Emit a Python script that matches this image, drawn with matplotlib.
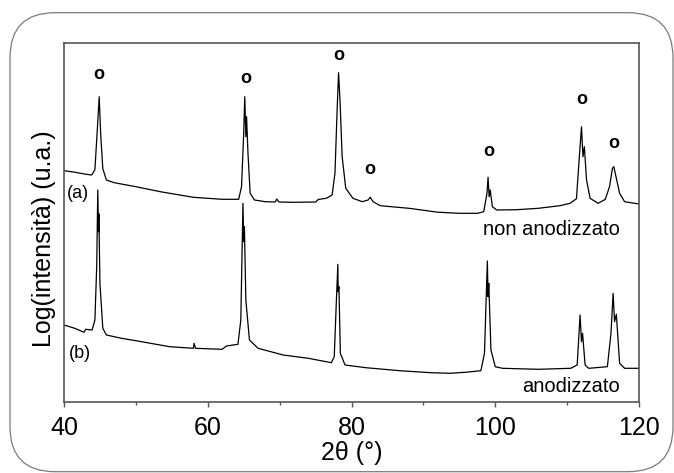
import matplotlib
matplotlib.use("Agg")
import matplotlib.pyplot as plt
from matplotlib.patches import FancyBboxPatch
from matplotlib.ticker import MultipleLocator

plt.rcParams['font.family'] = ['Liberation Sans', 'DejaVu Sans']

# ---- data: pattern (a) "non anodizzato" ----
two_theta_a = [40.0, 41.5, 43.0, 43.85, 44.3, 44.6, 44.9, 45.1, 45.4, 45.9, 47.0, 50.0,
               53.4, 58.0, 62.0, 64.3, 64.7, 65.0, 65.15, 65.3, 65.4, 65.6, 65.9, 66.5,
               68.0, 69.4, 69.6, 69.9, 72.0, 75.0, 75.4, 76.5, 77.3, 77.7, 78.0, 78.2,
               78.4, 78.7, 79.2, 80.2, 81.5, 82.3, 82.6, 83.0, 84.0, 88.0, 92.0, 95.0,
               97.5, 98.4, 98.85, 99.0, 99.15, 99.3, 99.6, 100.2, 103.0, 106.0, 109.0,
               110.4, 111.3, 111.7, 112.0, 112.2, 112.4, 112.7, 113.2, 114.3, 115.3,
               115.9, 116.3, 116.5, 116.8, 117.3, 118.0, 120.0]
intensity_a = [231.0, 229.5, 227.5, 226.7, 232.0, 268.0, 305.0, 268.0, 233.0, 221.7, 219.0, 215.0,
               210.0, 204.4, 202.4, 202.4, 215.0, 268.0, 305.0, 265.0, 285.0, 248.0, 208.4, 201.7,
               200.0, 199.7, 202.7, 199.7, 199.4, 199.7, 202.3, 203.4, 206.7, 228.4, 291.7, 329.0,
               301.7, 245.0, 213.4, 203.4, 200.0, 201.7, 204.4, 200.0, 196.0, 193.4, 189.5, 188.4,
               188.4, 190.0, 208.4, 224.4, 205.0, 211.7, 195.0, 191.7, 192.0, 193.4, 196.0,
               198.4, 203.0, 245.0, 275.0, 245.0, 255.0, 221.7, 203.4, 198.4, 202.3,
               215.0, 233.4, 235.0, 225.0, 208.4, 200.0, 197.7]

# ---- data: pattern (b) "anodizzato" ----
two_theta_b = [40.0, 41.5, 42.8, 43.0, 43.9, 44.3, 44.55, 44.7, 44.8, 44.85, 45.0, 45.4,
               45.9, 48.0, 50.0, 54.7, 58.0, 58.1, 58.3, 62.0, 62.6, 64.2, 64.6, 64.9,
               65.0, 65.1, 65.3, 65.8, 67.0, 70.5, 74.0, 77.2, 77.6, 77.9, 78.1, 78.15,
               78.25, 78.45, 79.1, 82.0, 86.7, 91.0, 93.7, 96.0, 98.0, 98.5, 98.9, 99.0,
               99.1, 99.4, 100.0, 101.0, 106.0, 110.5, 111.4, 111.8, 112.0, 112.15,
               112.5, 113.0, 115.6, 116.1, 116.4, 116.6, 116.85, 117.3, 118.0, 120.0]
intensity_b = [76.7, 73.4, 69.4, 72.4, 71.7, 81.7, 135.0, 211.7, 170.0, 188.0, 118.4, 73.4,
               66.7, 63.4, 61.0, 55.0, 53.4, 58.4, 53.4, 52.4, 55.7, 57.4, 81.7, 198.4,
               160.0, 175.0, 101.7, 61.7, 53.4, 46.7, 43.4, 39.0, 45.0, 101.7, 137.4, 110.0,
               115.0, 48.4, 36.7, 34.0, 31.0, 29.0, 28.4, 29.5, 31.0, 48.4, 140.7, 105.0,
               118.4, 51.7, 35.0, 33.4, 32.4, 33.4, 36.7, 86.7, 60.0, 68.4,
               36.7, 33.4, 35.0, 68.4, 108.4, 80.0, 87.4, 38.4, 33.4, 33.4]

# ---- peak markers (o) ----
marker_x = [44.9, 65.3, 78.2, 82.6, 99.1, 112.0, 116.5]
marker_y = [327.4, 323.4, 346.7, 231.7, 250.7, 301.7, 258.4]

x_ticks = [40, 60, 80, 100, 120]

W, H = 674, 473
fig = plt.figure(figsize=(W / 100, H / 100), dpi=100)

# rounded border around the figure
bg = fig.add_axes([0, 0, 1, 1], zorder=-1)
bg.set_xlim(0, W)
bg.set_ylim(H, 0)
bg.axis('off')
bg.add_patch(FancyBboxPatch((10, 12.7), 663, 459, boxstyle="round,pad=0,rounding_size=45",
                            facecolor='none', edgecolor='#7a7a7a', linewidth=0.9,
                            clip_on=False))

ax = fig.add_axes([64 / W, 1 - 401.7 / H, 575 / W, 359 / H])
ax.plot(two_theta_a, intensity_a, color='black', lw=0.9)
ax.plot(two_theta_b, intensity_b, color='black', lw=0.9)

for mx, my in zip(marker_x, marker_y):
    ax.text(mx, my, 'o', fontsize=13, fontweight='bold', ha='center', va='center')

ax.text(42.0, 208.4, '(a)', fontsize=13, ha='center', va='center')
ax.text(42.2, 48.4, '(b)', fontsize=13, ha='center', va='center')
ax.text(117.4, 172.5, 'non anodizzato', fontsize=14.5, ha='right', va='center')
ax.text(117.3, 15.7, 'anodizzato', fontsize=14.5, ha='right', va='center')

ax.set_xlim(40, 120)
ax.set_ylim(0, 359)
ax.set_xticks(x_ticks)
ax.xaxis.set_minor_locator(MultipleLocator(10))
ax.set_yticks([])
for s in ax.spines.values():
    s.set_color('#555555')
    s.set_linewidth(1.2)
ax.tick_params(axis='x', which='major', length=3.6, width=1.0, color='#555555',
               labelsize=18, pad=6.6)
ax.tick_params(axis='x', which='minor', length=2.0, width=1.0, color='#555555')

ax.set_xlabel('2θ (°)', fontsize=18, va='center')
ax.xaxis.set_label_coords(0.5, -0.144)
ax.set_ylabel('Log(intensità) (u.a.)', fontsize=18, va='center')
ax.yaxis.set_label_coords(-0.035, 0.455)

fig.savefig('out.png', dpi=100)
